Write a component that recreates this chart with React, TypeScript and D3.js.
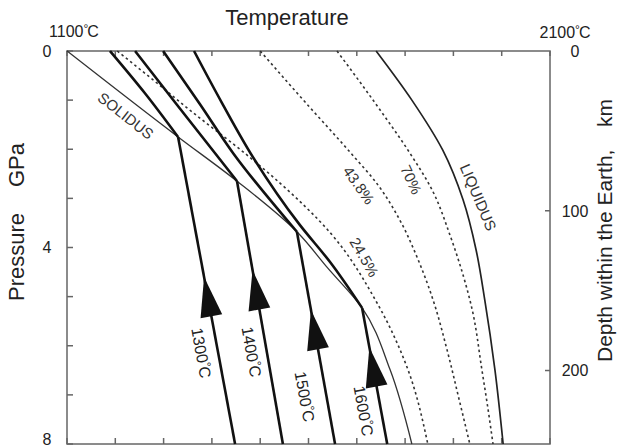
import React from "react";
import * as d3 from "d3";

type Pt = [number, number]; // [temperature °C, pressure GPa]

const W = 618;
const H = 448;
const FONT = "'Liberation Sans', Arial, Helvetica, sans-serif";

// axes
const T_DOMAIN: Pt = [1100, 2100];
const P_DOMAIN: Pt = [0, 8];
const DEPTH_MAX = 246; // km at 8 GPa
const T_TICKS = d3.range(1100, 2101, 100);
const P_TICKS = d3.range(0, 9, 1);
const P_LABELS = [0, 4, 8];
const DEPTH_TICKS = [100, 200];
const DEPTH_LABELS = [0, 100, 200];

// solidus / liquidus
const solidus: Pt[] = [[1100, 0], [1330, 1.75], [1452, 2.65], [1576, 3.68], [1640, 4.42], [1711, 5.23], [1769, 6.49], [1814, 8]];
const liquidus: Pt[] = [[1740, 0], [1814, 1.0], [1878, 2.02], [1920, 3.03], [1947, 4.05], [1965, 5.07], [1986, 6.49], [2003, 8]];

// melt fraction contours (dashed)
const melt245: Pt[] = [[1204, 0], [1286, 0.65], [1359, 1.24], [1473, 2.12], [1541, 2.69], [1645, 3.7], [1742, 5.13], [1806, 6.49], [1847, 8]];
const melt438: Pt[] = [[1500, 0], [1593, 1.04], [1686, 2.06], [1744, 2.73], [1789, 3.44], [1827, 4.25], [1858, 5.07], [1887, 6.09], [1912, 7.1], [1934, 8]];
const melt70: Pt[] = [[1659, 0], [1738, 1.06], [1810, 2.08], [1856, 2.83], [1893, 3.75], [1920, 4.56], [1939, 5.27], [1959, 6.49], [1972, 7.31], [1982, 8]];

// adiabats above the solidus (melting paths), ending at the solidus
const melt1300: Pt[] = [[1189, 0], [1261, 0.855], [1330, 1.75]];
const melt1400: Pt[] = [[1241, 0], [1328, 1.1], [1452, 2.65]];
const melt1500: Pt[] = [[1299, 0], [1375, 1.08], [1444, 2.08], [1576, 3.68]];
const melt1600: Pt[] = [[1363, 0], [1421, 1.06], [1485, 2.16], [1582, 3.54], [1645, 4.3], [1711, 5.23]];

// subsolidus adiabats: temperature at 8 GPa, arrow tip pressure
const ADIABAT_NAMES = ["1300", "1400", "1500", "1600"];
const ADIABAT_T8 = [1448, 1547, 1655, 1763];
const ARROW_TIP_P = [4.6, 4.46, 5.27, 6.03];
const ADIABAT_LABEL_T = [1375, 1479, 1589, 1711];
const ADIABAT_LABEL_P = [6.15, 6.13, 7.04, 7.33];

const curveLabels = [
  { text: "SOLIDUS", T: 1220, P: 1.34, angle: 38 },
  { text: "LIQUIDUS", T: 1949, P: 2.99, angle: 67 },
  { text: "24.5%", T: 1713, P: 4.21, angle: 60 },
  { text: "43.8%", T: 1702, P: 2.75, angle: 55 },
  { text: "70%", T: 1810, P: 2.63, angle: 65 },
];

const x = d3.scaleLinear().domain(T_DOMAIN).range([67, 550]);
const y = d3.scaleLinear().domain(P_DOMAIN).range([51, 444]);
const yDepth = d3.scaleLinear().domain([0, DEPTH_MAX]).range([51, 444]);

const line = d3.line<Pt>().x(d => x(d[0])).y(d => y(d[1])).curve(d3.curveMonotoneY);

function arrowPath(bottom: Pt, top: Pt, tipP: number) {
  const x0 = x(bottom[0]), y0 = y(bottom[1]);
  const x1 = x(top[0]), y1 = y(top[1]);
  const len = Math.hypot(x1 - x0, y1 - y0);
  const ux = (x1 - x0) / len, uy = (y1 - y0) / len;
  const ty = y(tipP);
  const tx = x0 + ((ty - y0) / (y1 - y0)) * (x1 - x0);
  const L = 40, hw = 11;
  const bx = tx - ux * L, by = ty - uy * L;
  const nx = -uy, ny = ux;
  return `M${tx},${ty}L${bx + nx * hw},${by + ny * hw}L${bx - nx * hw},${by - ny * hw}Z`;
}

function DegLabel({ value, fontSize, ...rest }: any) {
  return (
    <text fontSize={fontSize} {...rest}>
      {value}
      <tspan fontSize={fontSize * 0.75} dy={-fontSize * 0.22}>°</tspan>
      <tspan dy={fontSize * 0.22} dx={-1}>C</tspan>
    </text>
  );
}

export default function App() {
  const meltPaths = [melt1300, melt1400, melt1500, melt1600];
  const ink = "#111";

  return (
    <svg width={W} height={H} style={{ position: "absolute", left: 0, top: 0, background: "#fff" }}
      fontFamily={FONT}>
      <rect width={W} height={H} fill="#fff" />

      {/* titles */}
      <text x={287} y={25} textAnchor="middle" fontSize={22} fill="#222">Temperature</text>
      <text transform={`translate(24,${257}) rotate(-90)`} textAnchor="middle" fontSize={22} fill="#222">Pressure</text>
      <text transform={`translate(24,${165}) rotate(-90)`} textAnchor="middle" fontSize={22} fill="#222">GPa</text>
      <text transform={`translate(612,${362}) rotate(-90)`} fontSize={21} fill="#222">Depth within the Earth,</text>
      <text transform={`translate(612,${127}) rotate(-90)`} fontSize={21} fill="#222">km</text>

      {/* temperature end labels */}
      <DegLabel value="1100" fontSize={16} x={x(1100) + 7} y={37} textAnchor="middle" fill="#222" />
      <DegLabel value="2100" fontSize={16} x={x(2100) + 15} y={38} textAnchor="middle" fill="#222" />

      {/* pressure labels */}
      {P_LABELS.map(p => (
        <text key={p} x={47} y={Math.min(y(p), 439)} dy="0.36em" textAnchor="middle" fontSize={16} fill="#222">{p}</text>
      ))}
      {/* depth labels */}
      {DEPTH_LABELS.map(d => (
        <text key={d} x={575} y={yDepth(d)} dy="0.36em" textAnchor="middle" fontSize={16} fill="#222">{d}</text>
      ))}

      {/* frame + ticks */}
      <g stroke="#666" strokeWidth={1.5} fill="none">
        <rect x={x(1100)} y={y(0)} width={x(2100) - x(1100)} height={y(8) - y(0)} />
        {T_TICKS.map(t => (
          <g key={t}>
            <line x1={x(t)} x2={x(t)} y1={y(0)} y2={y(0) + 5} />
            <line x1={x(t)} x2={x(t)} y1={y(8)} y2={y(8) - 6} />
          </g>
        ))}
        {P_TICKS.map(p => (
          <line key={p} x1={x(1100)} x2={x(1100) + 6} y1={y(p)} y2={y(p)} />
        ))}
        {DEPTH_TICKS.map(d => (
          <line key={d} x1={x(2100)} x2={x(2100) - 5} y1={yDepth(d)} y2={yDepth(d)} />
        ))}
      </g>

      {/* melt fraction contours */}
      <g fill="none" stroke="#333" strokeWidth={1.6} strokeDasharray="2.5,3">
        {[melt245, melt438, melt70].map((c, i) => <path key={i} d={line(c) || ""} />)}
      </g>

      {/* solidus & liquidus */}
      <path d={line(solidus) || ""} fill="none" stroke="#333" strokeWidth={1.3} />
      <path d={line(liquidus) || ""} fill="none" stroke="#222" strokeWidth={1.7} />

      {/* adiabats */}
      <g fill="none" stroke={ink} strokeWidth={2.6}>
        {meltPaths.map((m, i) => <path key={i} d={line(m) || ""} />)}
        {meltPaths.map((m, i) => {
          const kink = m[m.length - 1];
          const base: Pt = [ADIABAT_T8[i], 8];
          return <line key={"s" + i} x1={x(base[0])} y1={y(base[1])} x2={x(kink[0])} y2={y(kink[1])} />;
        })}
      </g>
      <g fill={ink}>
        {meltPaths.map((m, i) => (
          <path key={i} d={arrowPath([ADIABAT_T8[i], 8], m[m.length - 1], ARROW_TIP_P[i])} />
        ))}
      </g>

      {/* adiabat labels */}
      {ADIABAT_NAMES.map((n, i) => (
        <DegLabel key={n} value={n} fontSize={16} fill="#222" textAnchor="middle" dominantBaseline="middle"
          transform={`translate(${x(ADIABAT_LABEL_T[i])},${y(ADIABAT_LABEL_P[i])}) rotate(80)`} />
      ))}

      {/* curve labels */}
      {curveLabels.map(l => (
        <text key={l.text} transform={`translate(${x(l.T)},${y(l.P)}) rotate(${l.angle})`}
          textAnchor="middle" dominantBaseline="middle" fontSize={15} fill="#333">{l.text}</text>
      ))}
    </svg>
  );
}
